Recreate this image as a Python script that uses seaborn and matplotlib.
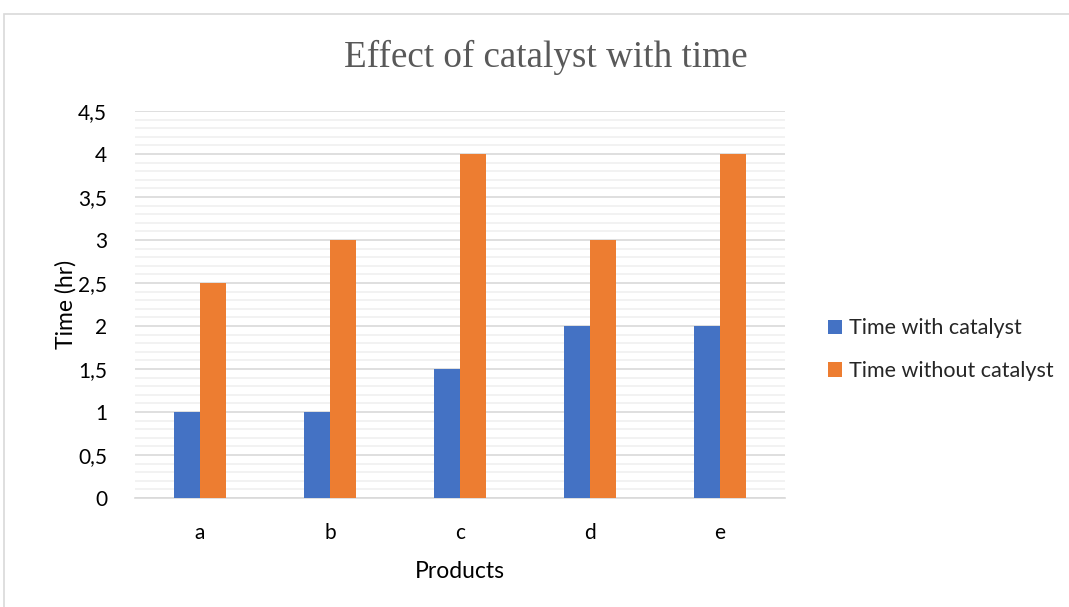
import numpy as np
import pandas as pd
import matplotlib
matplotlib.use("Agg")
import matplotlib.pyplot as plt
from matplotlib.patches import Rectangle
from matplotlib.ticker import MultipleLocator, FuncFormatter
import seaborn as sns

products = ["a", "b", "c", "d", "e"]
with_catalyst = [1, 1, 1.5, 2, 2]
without_catalyst = [2.5, 3, 4, 3, 4]
series_names = ["Time with catalyst", "Time without catalyst"]
colors = ["#4472C4", "#ED7D31"]

df = pd.DataFrame({
    "Products": products * 2,
    "Time": with_catalyst + without_catalyst,
    "Series": [series_names[0]] * len(products) + [series_names[1]] * len(products),
})

sns.set_theme(style="white")
plt.rcParams["font.family"] = ["Lato", "DejaVu Sans"]

fig = plt.figure(figsize=(10.69, 6.07), dpi=100)
ax = fig.add_axes([135 / 1069, 1 - 498 / 607, 650 / 1069, 387 / 607])

# outer chart frame
fig.patches.append(Rectangle((4 / 1069, -0.05), 1.1, 1 - 14 / 607 + 0.05,
                             transform=fig.transFigure, fill=False,
                             edgecolor="#d9d9d9", linewidth=1.2, zorder=0))

sns.barplot(data=df, x="Products", y="Time", hue="Series", palette=colors,
            width=0.4, linewidth=0, saturation=1, ax=ax, zorder=3)

ax.set_ylim(0, 4.5)
ax.set_xlim(-0.5, 4.5)
ax.yaxis.set_major_locator(MultipleLocator(0.5))
ax.yaxis.set_minor_locator(MultipleLocator(0.1))
ax.yaxis.set_major_formatter(FuncFormatter(lambda v, p: f"{v:g}".replace(".", ",")))
ax.grid(axis="y", which="major", color="#d9d9d9", linewidth=1.2, zorder=0)
ax.grid(axis="y", which="minor", color="#f0f0f0", linewidth=1.2, zorder=0)
ax.set_axisbelow(True)
for s in ["top", "right", "left"]:
    ax.spines[s].set_visible(False)
ax.spines["bottom"].set_color("#d9d9d9")
ax.spines["bottom"].set_linewidth(1.2)
ax.tick_params(axis="both", which="both", length=0, labelsize=15, colors="#000000")
ax.tick_params(axis="x", pad=18)
ax.tick_params(axis="y", pad=20)

ax.set_xlabel("Products", fontsize=16.5, color="#000000", labelpad=13)
ax.set_ylabel("Time (hr)", fontsize=16.5, color="#000000", labelpad=1)

fig.text(546 / 1069, 1 - 57 / 607, "Effect of catalyst with time",
         family="Liberation Serif", fontsize=26.7, color="#595959",
         ha="center", va="center")

handles, labels = ax.get_legend_handles_labels()
ax.legend(handles, labels, loc="center left", bbox_to_anchor=(1.037, 0.383),
          frameon=False, fontsize=15.5, handlelength=0.65, handleheight=0.65,
          handletextpad=0.3, labelspacing=1.05)

fig.savefig("out.png", dpi=100)
